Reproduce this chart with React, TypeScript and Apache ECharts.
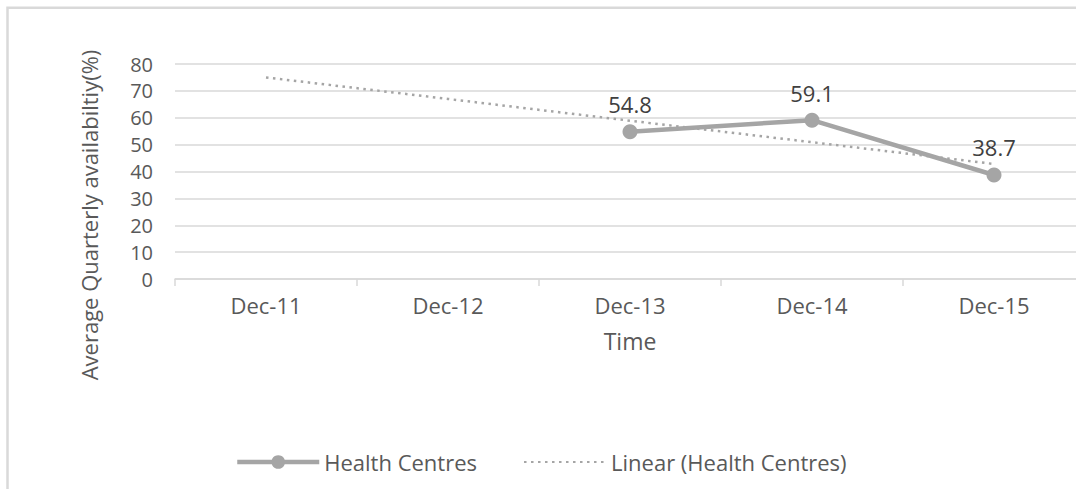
import React, { useEffect, useRef } from "react";
import * as echarts from "echarts";

const categories = ["Dec-11", "Dec-12", "Dec-13", "Dec-14", "Dec-15"];
const healthCentres = [null, null, 54.8, 59.1, 38.7];
const linearTrend = [75.0, 67.0, 58.9, 50.9, 42.8];
const yTicks = { min: 0, max: 80, interval: 10 };
const yTitle = "Average Quarterly availabiltiy(%)";
const xTitle = "Time";
const seriesNames = ["Health Centres", "Linear (Health Centres)"];

const FONT = "'Open Sans', sans-serif";
const GRAY = "#a5a5a5";
const GRID = "#d9d9d9";
const TEXT = "#595959";

export default function App() {
  const ref = useRef<HTMLDivElement>(null);
  useEffect(() => {
    if (!ref.current) return;
    const chart = echarts.init(ref.current, undefined, { renderer: "svg" });
    chart.setOption({
      animation: false,
      backgroundColor: "#ffffff",
      textStyle: { fontFamily: FONT },
      graphic: [
        {
          type: "rect",
          shape: { x: 7.5, y: 7.8, width: 1200, height: 700 },
          style: { fill: "none", stroke: GRID, lineWidth: 2.5 },
          silent: true,
        },
        {
          type: "text",
          x: 89,
          y: 215,
          rotation: Math.PI / 2,
          style: {
            text: yTitle,
            fill: TEXT,
            font: `22px ${FONT}`,
            align: "center",
            verticalAlign: "middle",
          },
        },
      ],
      grid: { left: 175, top: 64, width: 910, height: 215, containLabel: false },
      legend: {
        left: 230,
        top: 446,
        itemWidth: 82,
        itemHeight: 17,
        itemGap: 46,
        textStyle: { color: TEXT, fontSize: 22, fontFamily: FONT },
        data: [
          { name: seriesNames[0], lineStyle: { width: 4.5 } },
          { name: seriesNames[1], itemStyle: { opacity: 0 }, lineStyle: { width: 2 } },
        ],
      },
      xAxis: {
        type: "category",
        data: categories,
        boundaryGap: true,
        axisLine: { lineStyle: { color: GRID, width: 1.5 } },
        axisTick: { show: true, interval: 0, length: 7, lineStyle: { color: GRID, width: 1.5 } },
        axisLabel: { color: TEXT, fontSize: 22, margin: 15, fontFamily: FONT },
        name: xTitle,
        nameLocation: "middle",
        nameGap: 50,
        nameTextStyle: { color: TEXT, fontSize: 23, fontFamily: FONT },
      },
      yAxis: {
        type: "value",
        min: yTicks.min,
        max: yTicks.max,
        interval: yTicks.interval,
        axisLine: { show: false },
        axisTick: { show: false },
        axisLabel: { color: TEXT, fontSize: 20, lineHeight: 20, margin: 22, fontFamily: FONT },
        splitLine: { lineStyle: { color: GRID, width: 1.5 } },
      },
      series: [
        {
          name: seriesNames[0],
          type: "line",
          data: healthCentres,
          connectNulls: false,
          z: 3,
          color: GRAY,
          lineStyle: { color: GRAY, width: 4.5 },
          itemStyle: { color: GRAY },
          symbol: "circle",
          symbolSize: 15,
          label: {
            show: true,
            position: "top",
            distance: 9,
            color: "#404040",
            fontSize: 22,
            fontFamily: FONT,
          },
        },
        {
          name: seriesNames[1],
          type: "line",
          data: linearTrend,
          z: 2,
          color: GRAY,
          symbol: "none",
          lineStyle: { color: GRAY, width: 2.5, type: [2.5, 4.5] },
          label: { show: false },
        },
      ],
    });
    return () => chart.dispose();
  }, []);
  return (
    <div
      style={{
        position: "fixed",
        left: 0,
        top: 0,
        width: 1076,
        height: 489,
        overflow: "hidden",
        background: "#fff",
      }}
    >
      <div ref={ref} style={{ width: 1100, height: 489 }} />
    </div>
  );
}
